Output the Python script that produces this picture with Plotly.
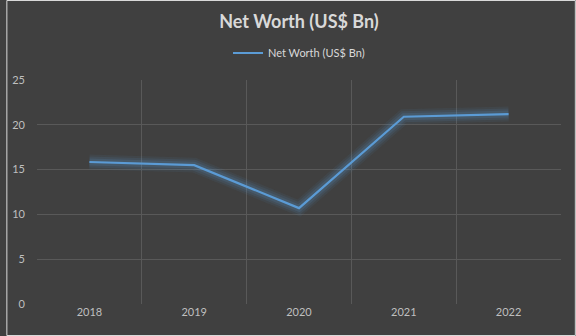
import plotly.graph_objects as go

years = ["2018", "2019", "2020", "2021", "2022"]
net_worth = [15.85, 15.5, 10.7, 20.9, 21.2]
y_ticks = [0, 5, 10, 15, 20, 25]

W, H = 576, 336
L, R, T, B = 31, 15, 80, 32

fig = go.Figure()

# soft glow under the line, built from stacked translucent strokes
for width, alpha in [(15, 0.07), (11, 0.10), (7, 0.14)]:
    fig.add_trace(go.Scatter(
        x=years, y=net_worth, mode="lines",
        line=dict(color=f"rgba(91,155,213,{alpha})", width=width),
        hoverinfo="skip", showlegend=False,
    ))
fig.add_trace(go.Scatter(
    x=years, y=net_worth, mode="lines", name="Net Worth (US$ Bn)",
    line=dict(color="#5b9bd5", width=2.2),
))

pw = W - L - R
ph = H - T - B
fig.add_shape(
    type="rect", xref="paper", yref="paper",
    x0=(0.5 - L) / pw, x1=(W - 0.5 - L) / pw,
    y0=(0.5 - B) / ph, y1=(H - 0.5 - B) / ph,
    line=dict(color="#d9d9d9", width=1), layer="above",
)

fig.update_layout(
    width=W, height=H,
    margin=dict(l=L, r=R, t=T, b=B),
    paper_bgcolor="#404040", plot_bgcolor="#404040",
    font=dict(family="Lato, 'Open Sans', sans-serif", color="#bfbfbf", size=11),
    title=dict(text="<b>Net Worth (US$ Bn)</b>", x=0.5, xref="paper", xanchor="center",
               y=1 - 22 / H, yanchor="middle",
               font=dict(size=18, color="#d9d9d9")),
    legend=dict(orientation="h", x=0.5, xanchor="center", y=1 + 27 / ph, yanchor="middle",
                font=dict(size=11, color="#d9d9d9"), bgcolor="rgba(0,0,0,0)"),
    xaxis=dict(type="category", range=[-0.5, 4.5], tickson="boundaries",
               showgrid=True, gridcolor="#595959", gridwidth=1,
               ticks="", showline=False, zeroline=False,
               tickfont=dict(size=11, color="#bfbfbf")),
    yaxis=dict(range=[0, 25], tickvals=y_ticks, showgrid=True, gridcolor="#595959",
               gridwidth=1, zeroline=False, showline=False, ticks="",
               ticklabelstandoff=11,
               tickfont=dict(size=11, color="#bfbfbf")),
)

fig.write_html("out.html")
